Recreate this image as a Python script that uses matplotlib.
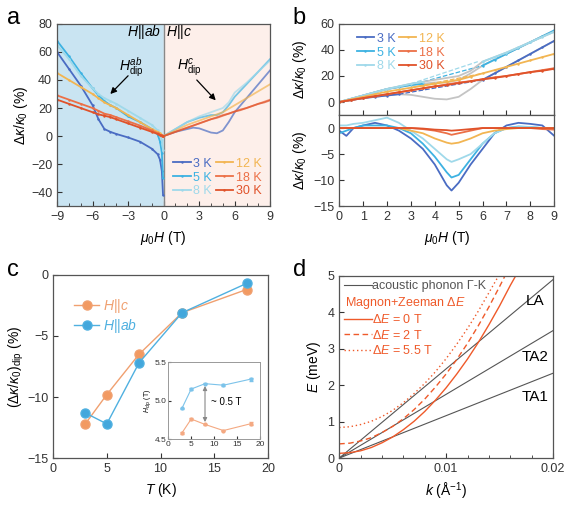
import matplotlib
matplotlib.use("Agg")
import matplotlib.pyplot as plt
import numpy as np
from matplotlib.lines import Line2D

plt.rcParams['font.family'] = ['Liberation Sans', 'DejaVu Sans']
plt.rcParams['mathtext.fontset'] = 'custom'
plt.rcParams['mathtext.rm'] = 'Liberation Sans'
plt.rcParams['mathtext.it'] = 'Liberation Sans:italic'
plt.rcParams['mathtext.bf'] = 'Liberation Sans:bold'
plt.rcParams['font.size'] = 9
plt.rcParams['axes.edgecolor'] = '#555555'
plt.rcParams['axes.linewidth'] = 0.9

# --- data -------------------------------------------------------------
temps = ["3 K", "5 K", "8 K", "12 K", "18 K", "30 K"]
colors = ["#4a6cc3", "#3db2e2", "#9fd9ea", "#f2b552", "#ec7047", "#e0522a"]

# panel a, H || ab (negative field)
h_ab = [-9, -8, -7, -6, -5.5, -5, -4.5, -4, -3, -2, -1, -0.5, -0.3, -0.15, -0.05]
k_ab = {
    "3 K": [60, 48, 36, 22, 12, 5, 3, 1.5, -1, -4, -9, -13, -17, -25, -42],
    "5 K": [68, 57, 45, 34, 29, 25, 22, 20, 14, 10, 5, 1, -4, -12, -30],
    "8 K": [65, 55, 43, 34, 30, 27, 25, 23, 18, 13, 8, 4, 1, -3, -10],
    "12 K": [45, 40, 35, 30, 27, 24, 22, 20, 15, 10, 5, 3, 2, 1, 0],
    "18 K": [29, 26, 23, 20, 18, 16, 15, 13.5, 10.5, 7.5, 4, 2, 1, 0.5, 0],
    "30 K": [26, 23, 20, 17, 15.5, 14.5, 13.5, 12, 9, 6, 3, 1.5, 0.8, 0.3, 0],
}

# panel a right side / panel b top, H || c
h_c = [0, 0.5, 1, 1.5, 2, 2.5, 3, 3.5, 4, 4.5, 5, 5.5, 6, 6.5, 7, 7.5, 8, 8.5, 9]
k_c = {
    "3 K": [0, 1.5, 3, 4, 5, 6, 5.5, 4, 2.5, 2, 4, 10, 17, 22, 27, 32, 37, 42, 47],
    "5 K": [0, 2.5, 5, 7.5, 10, 11.5, 13, 14, 15, 15, 17, 22, 28, 32.5, 37, 41.5, 46, 50.5, 55],
    "8 K": [0, 2.5, 5, 7.5, 10, 12, 14, 15.5, 17, 18.5, 20, 24, 31, 34.5, 38, 42, 46, 50, 54],
    "12 K": [0, 2, 4, 6, 8, 9.5, 11, 12.5, 14, 15.5, 17, 19.5, 22, 24.5, 27, 29.5, 32, 34.5, 37],
    "18 K": [0, 1.5, 3, 4.5, 6, 7.5, 9, 10.5, 12, 13.5, 15, 16, 17.5, 19, 20, 21.5, 23, 24.5, 26],
    "30 K": [0, 1.5, 3, 4.5, 6, 7.5, 9, 10.5, 12, 13, 14.5, 16, 17.5, 18.5, 20, 21.5, 23, 24, 25.5],
}
# field windows of the dip (drawn grey) and dashed background lines
dip_window = {"3 K": (2.5, 6.0), "5 K": (3.5, 5.8), "8 K": (3.5, 5.8)}
bg_h = {"3 K": [2.5, 6.0], "5 K": [3.0, 6.0], "8 K": [3.0, 5.8], "12 K": [3.0, 6.0]}
bg_k = {"3 K": [6, 17], "5 K": [13, 28], "8 K": [14, 31], "12 K": [11, 22]}

# panel b bottom, dip part
h_d = [0, 0.3, 0.6, 1, 1.5, 2, 2.5, 3, 3.5, 4, 4.5, 4.7, 5, 5.5, 6, 6.5, 7, 7.5, 8, 8.5, 9]
k_d = {
    "3 K": [-0.5, -1.5, 0, 0.5, 1, 0.5, -0.5, -2, -4, -7, -11, -12, -10.5, -7, -4, -1, 0.5, 1, 0.8, 0.5, -1.5],
    "5 K": [-1, -0.5, 0, 0.5, 0.5, 0.5, 0, -1, -3, -5.5, -8.5, -9.5, -9, -6, -3, -1, 0, 0.3, 0.2, 0, 0],
    "8 K": [0.5, 0.5, 0.8, 1, 1.5, 2, 1, -0.5, -2, -4, -6, -6.5, -6, -5, -3, -1, 0, 0.2, 0.2, 0, 0],
    "12 K": [0, 0, 0, 0, 0, 0, 0, -0.5, -1, -2, -2.8, -3, -2.8, -2, -1, -0.5, -0.2, 0, 0, 0, 0],
    "18 K": [0, 0, 0, 0, 0, 0, 0, 0, -0.2, -0.5, -1, -1.3, -1, -0.5, 0, 0, 0, 0, 0, -0.2, -0.3],
    "30 K": [0, 0, 0, 0, 0, 0, 0, 0, -0.1, -0.3, -0.4, -0.5, -0.4, -0.2, 0, 0, 0, 0, 0, 0, 0],
}

# panel c
T_c = [3, 5, 8, 12, 18]
dip_c = [-12.2, -9.8, -6.5, -3.1, -1.2]
dip_ab = [-11.3, -12.2, -7.2, -3.1, -0.7]
hdip_ab = [4.90, 5.15, 5.22, 5.20, 5.28]
hdip_c = [4.58, 4.76, 4.69, 4.61, 4.70]
hdip_err = [0.01, 0.01, 0.01, 0.01, 0.02]

# panel d
k_ph = [0, 0.02]
E_LA = [0, 4.9]
E_TA2 = [0, 3.5]
E_TA1 = [0, 2.33]
k_m0 = [0, 0.001, 0.002, 0.003, 0.004, 0.005, 0.006, 0.007, 0.008, 0.009, 0.010,
        0.011, 0.012, 0.013, 0.014, 0.015, 0.016, 0.0165]
E_m0 = [0.13, 0.15, 0.2, 0.29, 0.42, 0.58, 0.78, 1.01, 1.28, 1.59, 1.93,
        2.31, 2.72, 3.17, 3.66, 4.18, 4.74, 5.0]
k_m2 = [0, 0.001, 0.002, 0.003, 0.004, 0.005, 0.006, 0.007, 0.008, 0.009, 0.010,
        0.011, 0.012, 0.013, 0.014, 0.015, 0.0155]
E_m2 = [0.39, 0.41, 0.47, 0.56, 0.70, 0.87, 1.08, 1.33, 1.62, 1.95, 2.31,
        2.71, 3.15, 3.63, 4.15, 4.71, 5.0]
k_m55 = [0, 0.001, 0.002, 0.003, 0.004, 0.005, 0.006, 0.007, 0.008, 0.009, 0.010,
         0.011, 0.012, 0.013, 0.014, 0.0149]
E_m55 = [0.84, 0.86, 0.92, 1.01, 1.14, 1.31, 1.52, 1.77, 2.05, 2.37, 2.73,
         3.13, 3.56, 4.03, 4.54, 5.0]

# --- figure -----------------------------------------------------------
fig = plt.figure(figsize=(5.72, 5.09), dpi=100)
ax_a = fig.add_axes([0.0997, 0.595, 0.3727, 0.358])
ax_b1 = fig.add_axes([0.593, 0.774, 0.376, 0.179])
ax_b2 = fig.add_axes([0.593, 0.595, 0.376, 0.179])
ax_c = fig.add_axes([0.0927, 0.100, 0.376, 0.360])
ax_d = fig.add_axes([0.593, 0.100, 0.374, 0.358])
ax_in = fig.add_axes([0.294, 0.1375, 0.161, 0.151])


def style(ax):
    ax.tick_params(direction="in", which="both", colors="#333333", labelsize=9)
    ax.tick_params(which="major", length=3.5)
    ax.tick_params(which="minor", length=2)


# panel a
ax_a.axvspan(-9, 0, color="#c9e4f2", zorder=0)
ax_a.axvspan(0, 9, color="#fdefea", zorder=0)
ax_a.axvline(0, color="#888888", lw=1)
for t, c in zip(temps, colors):
    ax_a.plot(h_ab, k_ab[t], color=c, lw=1.3, marker=".", ms=1.5, label=t)
    ax_a.plot(h_c, k_c[t], color=c, lw=1.3, alpha=0.7)
ax_a.set_xlim(-9, 9)
ax_a.set_ylim(-50, 80)
ax_a.set_xticks([-9, -6, -3, 0, 3, 6, 9])
ax_a.set_xticks(np.arange(-9, 10, 1), minor=True)
ax_a.set_yticks([-40, -20, 0, 20, 40, 60, 80])
ax_a.set_xlabel(r"$\mu_0H$ (T)", fontsize=10)
ax_a.set_ylabel(r"$\Delta\kappa/\kappa_0$ (%)", fontsize=10, labelpad=1)
style(ax_a)
ax_a.text(-0.2, 74, r"$H||ab$", ha="right", va="center", fontsize=10)
ax_a.text(0.2, 74, r"$H||c$", ha="left", va="center", fontsize=10)
ax_a.text(-2.7, 49, r"$H^{ab}_{\mathrm{dip}}$", ha="center", va="center", fontsize=10)
ax_a.text(2.2, 49, r"$H^{c}_{\mathrm{dip}}$", ha="center", va="center", fontsize=10)
ax_a.annotate("", xy=(-4.5, 30), xytext=(-3.0, 43),
              arrowprops=dict(arrowstyle="-|>", color="k", lw=0.9,
                              shrinkA=0, shrinkB=0, mutation_scale=9))
ax_a.annotate("", xy=(4.4, 25.5), xytext=(2.8, 40),
              arrowprops=dict(arrowstyle="-|>", color="k", lw=0.9,
                              shrinkA=0, shrinkB=0, mutation_scale=9))
ax_a.legend(loc="lower right", ncol=2, frameon=False, fontsize=9,
            labelcolor="linecolor", handlelength=1.4, handletextpad=0.2,
            columnspacing=0.3, labelspacing=0.15, borderaxespad=0.3)

# panel b top
for t, c in zip(temps, colors):
    h = np.array(h_c)
    k = np.array(k_c[t])
    if t in dip_window:
        lo, hi = dip_window[t]
        out = np.where((h > lo) & (h < hi), np.nan, k)
        ax_b1.plot(h, k, color="#c4c4c4", lw=1.3)
        ax_b1.plot(h, out, color=c, lw=1.3, marker=".", ms=1.5, label=t)
    else:
        ax_b1.plot(h, k, color=c, lw=1.3, marker=".", ms=1.5, label=t)
    if t in bg_h:
        ax_b1.plot(bg_h[t], bg_k[t], color=c, lw=0.9, ls="--")
ax_b1.set_xlim(0, 9)
ax_b1.set_ylim(-10, 60)
ax_b1.set_yticks([0, 20, 40, 60])
ax_b1.set_xticks(range(10))
ax_b1.set_xticklabels([])
ax_b1.set_ylabel(r"$\Delta\kappa/\kappa_0$ (%)", fontsize=10, labelpad=6)
style(ax_b1)
ax_b1.legend(loc="upper left", ncol=2, frameon=False, fontsize=9,
             labelcolor="linecolor", handlelength=1.4, handletextpad=0.2,
             columnspacing=0.3, labelspacing=0.15, borderaxespad=0.3,
             bbox_to_anchor=(0.04, 1.0))

# panel b bottom
for t, c in zip(temps, colors):
    ax_b2.plot(h_d, k_d[t], color=c, lw=1.3)
ax_b2.set_xlim(0, 9)
ax_b2.set_ylim(-15, 2.5)
ax_b2.set_yticks([-15, -10, -5, 0])
ax_b2.set_xticks(range(10))
ax_b2.set_xlabel(r"$\mu_0H$ (T)", fontsize=10)
ax_b2.set_ylabel(r"$\Delta\kappa/\kappa_0$ (%)", fontsize=10, labelpad=1)
style(ax_b2)
ax_b1.yaxis.set_label_coords(-0.14, 0.5)
ax_b2.yaxis.set_label_coords(-0.14, 0.5)

# panel c
ax_c.plot(T_c, dip_c, color="#f0a070", lw=1, marker="o", ms=6.5,
          mfc="#f29a62", mec="#f0a070", label=r"$H||c$")
ax_c.plot(T_c, dip_ab, color="#4fb0e0", lw=1, marker="o", ms=6.5,
          mfc="#43a7dc", mec="#4fb0e0", label=r"$H||ab$")
ax_c.set_xlim(0, 20)
ax_c.set_ylim(-15, 0)
ax_c.set_xticks([0, 5, 10, 15, 20])
ax_c.set_yticks([-15, -10, -5, 0])
ax_c.set_xlabel(r"$T$ (K)", fontsize=10)
ax_c.set_ylabel(r"$(\Delta\kappa/\kappa_0)_{\mathrm{dip}}$ (%)", fontsize=10, labelpad=1)
style(ax_c)
leg = ax_c.legend(loc="upper left", frameon=False, fontsize=10,
                  handlelength=1.8, handletextpad=0.3, labelspacing=0.2,
                  bbox_to_anchor=(0.04, 0.95))
for txt, col in zip(leg.get_texts(), ["#f0a070", "#4fb0e0"]):
    txt.set_color(col)

# inset
ax_in.errorbar(T_c, hdip_ab, yerr=hdip_err, color="#7cc3ea", lw=0.8,
               marker="o", ms=2, capsize=1.5, elinewidth=0.8)
ax_in.errorbar(T_c, hdip_c, yerr=hdip_err, color="#f4a982", lw=0.8,
               marker="o", ms=2, capsize=1.5, elinewidth=0.8)
ax_in.annotate("", xy=(8, 4.72), xytext=(8, 5.19),
               arrowprops=dict(arrowstyle="<|-|>", color="#888888", lw=0.8,
                               mutation_scale=6, shrinkA=0, shrinkB=0))
ax_in.text(9.3, 4.98, "~ 0.5 T", fontsize=7, va="center")
ax_in.set_xlim(0, 20)
ax_in.set_ylim(4.5, 5.5)
ax_in.set_xticks([0, 5, 10, 15, 20])
ax_in.set_yticks([4.5, 5.0, 5.5])
ax_in.set_ylabel(r"$H_{\mathrm{dip}}$ (T)", fontsize=5, labelpad=1)
ax_in.tick_params(direction="in", labelsize=6, length=2, pad=1.5, colors="#333333")
for s in ax_in.spines.values():
    s.set_color("#999999")
    s.set_linewidth(0.7)

# panel d
gcol = "#555555"
rcol = "#ef5a2a"
ax_d.plot(k_ph, E_LA, color=gcol, lw=0.8)
ax_d.plot(k_ph, E_TA2, color=gcol, lw=0.8)
ax_d.plot(k_ph, E_TA1, color=gcol, lw=0.8)
ax_d.plot(k_m0, E_m0, color=rcol, lw=1)
ax_d.plot(k_m2, E_m2, color=rcol, lw=1, ls=(0, (4, 2.5)))
ax_d.plot(k_m55, E_m55, color=rcol, lw=1, ls=(0, (1, 2)))
ax_d.text(0.0183, 4.3, "LA", fontsize=11, ha="center", va="center")
ax_d.text(0.0183, 2.78, "TA2", fontsize=11, ha="center", va="center")
ax_d.text(0.0183, 1.68, "TA1", fontsize=11, ha="center", va="center")
ax_d.set_xlim(0, 0.02)
ax_d.set_ylim(0, 5)
ax_d.set_xticks([0, 0.01, 0.02])
ax_d.set_xticklabels(["0", "0.01", "0.02"])
ax_d.set_xticks(np.arange(0, 0.0201, 0.002), minor=True)
ax_d.set_yticks(range(6))
ax_d.set_xlabel(r"$k$ (Å$^{-1}$)", fontsize=10)
ax_d.set_ylabel(r"$E$ (meV)", fontsize=10, labelpad=3)
style(ax_d)
handles = [Line2D([], [], color=gcol, lw=0.8),
           Line2D([], [], color="none"),
           Line2D([], [], color=rcol, lw=1),
           Line2D([], [], color=rcol, lw=1, ls=(0, (4, 2.5))),
           Line2D([], [], color=rcol, lw=1, ls=(0, (1, 2)))]
labels = ["acoustic phonon Γ-K", r"Magnon+Zeeman $\Delta E$",
          r"$\Delta E$ = 0 T", r"$\Delta E$ = 2 T", r"$\Delta E$ = 5.5 T"]
leg = ax_d.legend(handles, labels, loc="upper left", frameon=False, fontsize=9,
                  handlelength=2.3, handletextpad=0.0, labelspacing=0.2,
                  borderaxespad=0.15, borderpad=0.2)
for i, txt in enumerate(leg.get_texts()):
    txt.set_color(gcol if i == 0 else rcol)
    if i == 1:
        txt.set_position((-27, 0))

# panel letters
fig.text(0.012, 0.965, "a", fontsize=17, va="center")
fig.text(0.512, 0.965, "b", fontsize=17, va="center")
fig.text(0.012, 0.47, "c", fontsize=17, va="center")
fig.text(0.512, 0.47, "d", fontsize=17, va="center")

fig.savefig("out.png", dpi=100)
